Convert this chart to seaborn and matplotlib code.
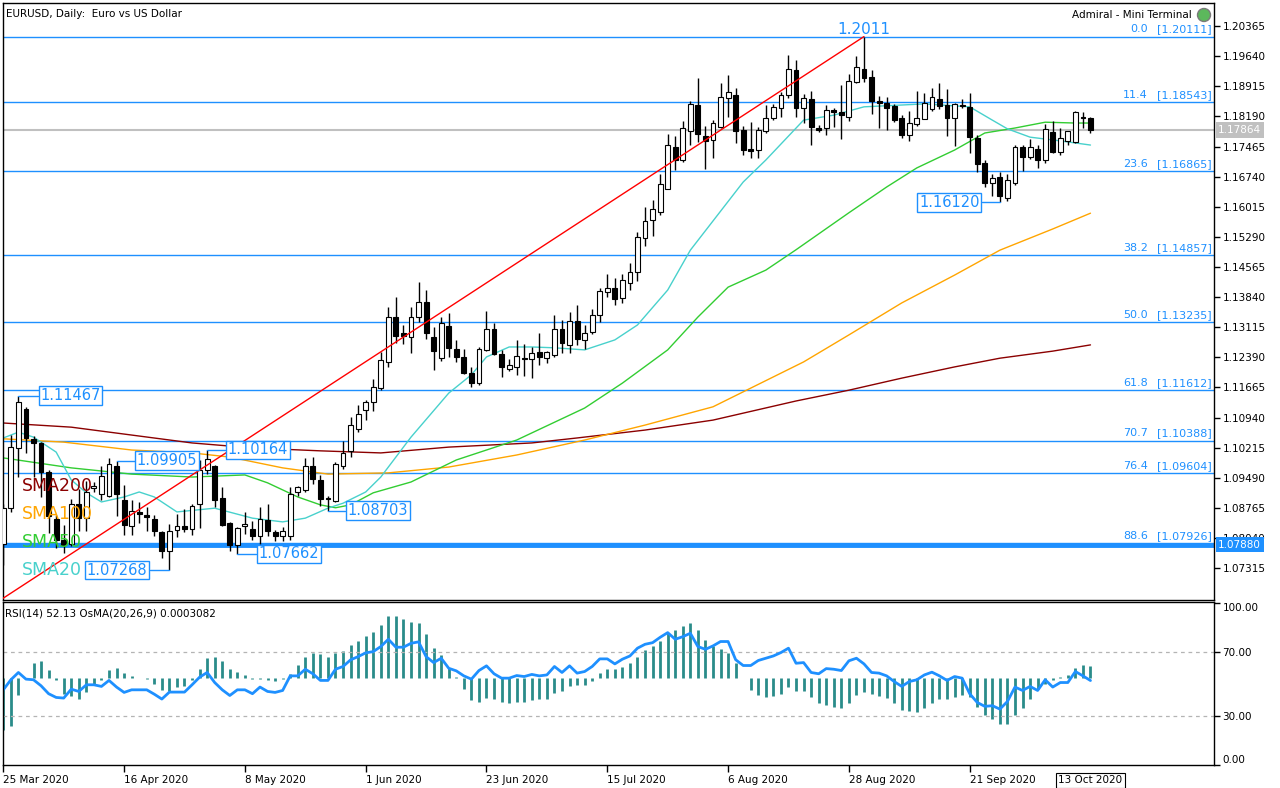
import numpy as np
import matplotlib
matplotlib.use("Agg")
import matplotlib.pyplot as plt
import matplotlib.transforms as mtransforms
from matplotlib.patches import Circle
import seaborn as sns

# EURUSD daily candles, 25 Mar 2020 .. 13 Oct 2020
opens = [1.0790, 1.0876, 1.1020, 1.1114, 1.1043, 1.1032, 1.0962, 1.0850, 1.0800, 1.0790,
         1.0885, 1.0852, 1.0924, 1.0911, 1.0906, 1.0978, 1.0896, 1.0834, 1.0868, 1.0860,
         1.0850, 1.0819, 1.0774, 1.0823, 1.0834, 1.0826, 1.0887, 1.0968, 1.0977, 1.0900,
         1.0840, 1.0787, 1.0832, 1.0825, 1.0808, 1.0848, 1.0819, 1.0808, 1.0810, 1.0916,
         1.0920, 1.0977, 1.0945, 1.0900, 1.0894, 1.0978, 1.1013, 1.1066, 1.1112, 1.1132,
         1.1166, 1.1228, 1.1336, 1.1298, 1.1288, 1.1336, 1.1372, 1.1288, 1.1237, 1.1314,
         1.1258, 1.1240, 1.1202, 1.1178, 1.1257, 1.1307, 1.1247, 1.1212, 1.1216, 1.1238,
         1.1236, 1.1251, 1.1237, 1.1245, 1.1307, 1.1268, 1.1326, 1.1281, 1.1300, 1.1340,
         1.1397, 1.1407, 1.1382, 1.1418, 1.1445, 1.1527, 1.1570, 1.1589, 1.1645, 1.1745,
         1.1714, 1.1785, 1.1847, 1.1772, 1.1762, 1.1794, 1.1864, 1.1871, 1.1786, 1.1740,
         1.1738, 1.1784, 1.1815, 1.1840, 1.1870, 1.1931, 1.1840, 1.1861, 1.1792, 1.1791,
         1.1834, 1.1830, 1.1818, 1.1901, 1.1932, 1.1914, 1.1856, 1.1852, 1.1844, 1.1815,
         1.1774, 1.1800, 1.1813, 1.1837, 1.1861, 1.1846, 1.1815, 1.1847, 1.1842, 1.1767,
         1.1706, 1.1659, 1.1673, 1.1623, 1.1659, 1.1745, 1.1721, 1.1741, 1.1714, 1.1781,
         1.1733, 1.1760, 1.1758, 1.1818, 1.1815]
highs = [1.0886, 1.1052, 1.1147, 1.1120, 1.1050, 1.1035, 1.0969, 1.0860, 1.0835, 1.0897,
         1.0921, 1.0941, 1.0940, 1.0978, 1.0997, 1.09905, 1.0932, 1.0896, 1.0890, 1.0880,
         1.0860, 1.0820, 1.0838, 1.0862, 1.0874, 1.0885, 1.0992, 1.10164, 1.0980, 1.0927,
         1.0842, 1.0830, 1.0868, 1.0845, 1.0880, 1.0885, 1.0823, 1.0830, 1.0926, 1.0930,
         1.0996, 1.1000, 1.0955, 1.0906, 1.0988, 1.1037, 1.1095, 1.1124, 1.1137, 1.1188,
         1.1252, 1.1360, 1.1384, 1.1318, 1.1360, 1.1420, 1.1400, 1.1312, 1.1336, 1.1345,
         1.1280, 1.1260, 1.1216, 1.1265, 1.1350, 1.1322, 1.1257, 1.1235, 1.1280, 1.1271,
         1.1265, 1.1297, 1.1255, 1.1340, 1.1330, 1.1348, 1.1365, 1.1318, 1.1355, 1.1405,
         1.1440, 1.1430, 1.1440, 1.1465, 1.1541, 1.1601, 1.1618, 1.1681, 1.1777, 1.1772,
         1.1808, 1.1855, 1.1911, 1.1796, 1.1810, 1.1900, 1.1918, 1.1887, 1.1796, 1.1806,
         1.1794, 1.1846, 1.1850, 1.1877, 1.1967, 1.1955, 1.1872, 1.1880, 1.1798, 1.1846,
         1.1840, 1.1895, 1.1920, 1.1965, 1.2011, 1.1930, 1.1869, 1.1865, 1.1850, 1.1823,
         1.1832, 1.1880, 1.1876, 1.1888, 1.1900, 1.1884, 1.1852, 1.1862, 1.1875, 1.1775,
         1.1715, 1.1680, 1.1685, 1.1680, 1.1750, 1.1750, 1.1765, 1.1749, 1.1800, 1.1808,
         1.1790, 1.1784, 1.1832, 1.1830, 1.1818]
lows = [1.0740, 1.0866, 1.0950, 1.1008, 1.0950, 1.0904, 1.0816, 1.0780, 1.0768, 1.0785,
        1.0820, 1.0820, 1.0915, 1.0896, 1.0904, 1.0856, 1.0812, 1.0812, 1.0840, 1.0822,
        1.0810, 1.0756, 1.07268, 1.0806, 1.0818, 1.0812, 1.0829, 1.0959, 1.0880, 1.0834,
        1.0772, 1.07662, 1.0815, 1.0800, 1.0790, 1.0808, 1.0798, 1.0798, 1.0800, 1.0906,
        1.0916, 1.0935, 1.0881, 1.08703, 1.0890, 1.0970, 1.0999, 1.1060, 1.1089, 1.1111,
        1.1160, 1.1215, 1.1274, 1.1270, 1.1250, 1.1324, 1.1283, 1.1209, 1.1230, 1.1240,
        1.1228, 1.1200, 1.1168, 1.1172, 1.1255, 1.1245, 1.1192, 1.1205, 1.1196, 1.1194,
        1.1190, 1.1220, 1.1225, 1.1240, 1.1250, 1.1250, 1.1268, 1.1258, 1.1295, 1.1323,
        1.1384, 1.1366, 1.1370, 1.1400, 1.1423, 1.1507, 1.1531, 1.1581, 1.1644, 1.1690,
        1.1710, 1.1750, 1.1758, 1.1693, 1.1720, 1.1790, 1.1818, 1.1756, 1.1726, 1.1720,
        1.1718, 1.1780, 1.1810, 1.1818, 1.1863, 1.1818, 1.1802, 1.1750, 1.1782, 1.1775,
        1.1794, 1.1764, 1.1808, 1.1900, 1.1902, 1.1825, 1.1790, 1.1786, 1.1806, 1.1767,
        1.1760, 1.1795, 1.1812, 1.1833, 1.1837, 1.1772, 1.1748, 1.1840, 1.1730, 1.1685,
        1.1650, 1.1627, 1.1612, 1.1615, 1.1655, 1.1687, 1.1717, 1.1695, 1.1707, 1.1730,
        1.1727, 1.1750, 1.1755, 1.1792, 1.1780]
closes = [1.0876, 1.1023, 1.1131, 1.1045, 1.1032, 1.0962, 1.0857, 1.0800, 1.0788, 1.0885,
          1.0852, 1.0916, 1.0930, 1.0954, 1.0982, 1.0911, 1.0836, 1.0870, 1.0863, 1.0855,
          1.0822, 1.0774, 1.0822, 1.0834, 1.0826, 1.0881, 1.0968, 1.0994, 1.0896, 1.0835,
          1.0787, 1.0828, 1.0838, 1.0808, 1.0850, 1.0822, 1.0808, 1.0820, 1.0911, 1.0926,
          1.0978, 1.0947, 1.0897, 1.0897, 1.0982, 1.1010, 1.1076, 1.1102, 1.1131, 1.1168,
          1.1233, 1.1336, 1.1290, 1.1290, 1.1336, 1.1372, 1.1298, 1.1254, 1.1322, 1.1261,
          1.1240, 1.1202, 1.1178, 1.1260, 1.1307, 1.1247, 1.1216, 1.1220, 1.1243, 1.1236,
          1.1250, 1.1240, 1.1251, 1.1307, 1.1273, 1.1326, 1.1283, 1.1298, 1.1340, 1.1398,
          1.1407, 1.1380, 1.1424, 1.1445, 1.1529, 1.1567, 1.1596, 1.1656, 1.1750, 1.1715,
          1.1791, 1.1849, 1.1777, 1.1760, 1.1803, 1.1866, 1.1878, 1.1784, 1.1738, 1.1735,
          1.1786, 1.1815, 1.1842, 1.1870, 1.1933, 1.1840, 1.1864, 1.1794, 1.1787, 1.1834,
          1.1830, 1.1822, 1.1904, 1.1938, 1.1911, 1.1856, 1.1852, 1.1840, 1.1810, 1.1774,
          1.1803, 1.1815, 1.1852, 1.1866, 1.1845, 1.1815, 1.1849, 1.1845, 1.1770, 1.1705,
          1.1659, 1.1670, 1.1627, 1.1666, 1.1745, 1.1721, 1.1745, 1.1715, 1.1788, 1.1733,
          1.1766, 1.1784, 1.1830, 1.1814, 1.17864]

# moving averages, sampled along the drawn lines (bar index, price)
sma20_bars = [0, 2, 4, 7, 9, 11, 13, 16, 18, 20, 23, 28, 33, 37, 40, 43, 45, 48, 50, 54, 59, 62,
              64, 67, 70, 73, 77, 81, 84, 88, 91, 98, 101, 106, 110, 114, 122, 128, 131, 133, 136, 140, 144]
sma20_vals = [1.1045, 1.1059, 1.1047, 1.1011, 1.0944, 1.0913, 1.0891, 1.0903, 1.0915, 1.0903,
              1.0867, 1.0876, 1.0852, 1.0843, 1.0852, 1.0876, 1.0888, 1.0915, 1.0951, 1.1047,
              1.1153, 1.1197, 1.1240, 1.1264, 1.1264, 1.1262, 1.1257, 1.1281, 1.1317, 1.1401,
              1.1497, 1.1661, 1.1714, 1.1810, 1.1822, 1.1842, 1.1849, 1.1842, 1.1810, 1.1789,
              1.1769, 1.1760, 1.1750]
sma50_bars = [0, 9, 17, 25, 32, 35, 39, 42, 44, 46, 49, 54, 60, 68, 77, 82, 88, 92, 96, 101,
              105, 112, 117, 121, 126, 130, 134, 138, 142, 144]
sma50_vals = [1.0997, 1.0973, 1.0958, 1.0951, 1.0956, 1.0937, 1.0903, 1.0884, 1.0877, 1.0884,
              1.0913, 1.0939, 1.0992, 1.1040, 1.1117, 1.1177, 1.1257, 1.1336, 1.1408, 1.1449,
              1.1498, 1.1587, 1.1649, 1.1695, 1.1738, 1.1779, 1.1791, 1.1805, 1.1803, 1.1803]
sma100_bars = [0, 8, 17, 25, 30, 37, 43, 51, 59, 68, 77, 85, 94, 99, 106, 112, 119, 126, 132, 139, 144]
sma100_vals = [1.1043, 1.1035, 1.1016, 1.1009, 1.0999, 1.0973, 1.0958, 1.0961, 1.0975, 1.1004,
               1.1040, 1.1076, 1.1120, 1.1165, 1.1228, 1.1293, 1.1370, 1.1437, 1.1497, 1.1548, 1.1586]
sma200_bars = [0, 9, 17, 25, 33, 42, 50, 59, 70, 76, 85, 94, 105, 112, 119, 126, 132, 139, 144]
sma200_vals = [1.1081, 1.1071, 1.1052, 1.1033, 1.1021, 1.1014, 1.1009, 1.1023, 1.1033, 1.1045,
               1.1064, 1.1088, 1.1134, 1.1160, 1.1189, 1.1216, 1.1237, 1.1254, 1.1269]

rsi = [46.4, 52.6, 57.1, 53.0, 52.6, 48.9, 44.0, 41.7, 41.3, 46.8,
       45.4, 49.5, 49.5, 48.5, 52.2, 48.1, 44.8, 46.4, 46.4, 46.4,
       43.7, 40.7, 45.0, 45.0, 45.0, 49.5, 54.2, 57.1, 50.9, 46.4,
       42.9, 46.4, 46.4, 44.0, 48.1, 45.4, 44.8, 46.0, 55.0, 55.0,
       59.1, 56.3, 52.2, 52.2, 59.1, 60.8, 64.9, 66.9, 69.2, 70.0,
       73.1, 77.6, 72.7, 72.7, 75.1, 76.0, 66.9, 63.2, 65.9, 59.7,
       58.1, 55.0, 53.0, 58.3, 61.2, 56.3, 53.6, 53.6, 55.2, 54.6,
       55.9, 55.0, 55.6, 60.8, 57.1, 61.2, 56.7, 57.7, 60.8, 65.5,
       65.5, 62.4, 65.3, 67.3, 72.1, 74.5, 75.5, 78.8, 81.7, 77.6,
       79.2, 81.3, 73.1, 71.4, 73.5, 76.2, 76.2, 65.0, 61.4, 61.4,
       64.5, 65.9, 67.3, 69.4, 72.1, 62.8, 63.2, 57.1, 56.3, 59.5,
       59.1, 58.3, 64.3, 65.9, 62.4, 57.1, 56.7, 55.0, 51.5, 48.5,
       51.5, 52.6, 55.6, 57.3, 55.0, 52.2, 54.6, 53.6, 44.0, 38.6,
       36.2, 36.6, 34.5, 39.2, 48.1, 46.0, 48.5, 46.0, 52.6, 48.1,
       50.9, 50.9, 57.7, 55.0, 52.13]
# OsMA histogram in units of 1e-4
osma_e4 = [-13.0, -12.0, -4.2, -0.2, 3.7, 4.2, 2.0, -0.5, -4.0, -4.5,
           -5.2, -3.4, -1.5, -0.5, 2.0, 2.4, 1.3, 0.5, 0.1, -0.3,
           -1.5, -3.0, -3.2, -2.3, -2.0, -0.5, 2.2, 4.9, 5.3, 4.2,
           2.2, 1.6, 0.7, -0.3, -0.3, -0.4, -0.8, -0.3, 1.0, 3.2,
           5.3, 6.3, 5.9, 5.2, 6.2, 6.8, 8.3, 9.3, 10.5, 11.4,
           13.3, 15.5, 15.5, 14.7, 14.0, 13.7, 11.0, 7.4, 5.8, 2.4,
           0.2, -2.8, -5.5, -5.9, -5.1, -5.2, -5.9, -6.3, -5.9, -5.9,
           -5.5, -5.3, -5.2, -3.8, -3.2, -2.0, -1.8, -1.8, -0.7, 1.2,
           2.2, 2.2, 2.8, 3.7, 5.2, 7.0, 8.0, 9.3, 11.2, 12.0,
           13.0, 13.7, 12.0, 9.5, 8.0, 7.2, 6.3, 3.7, 0.0, -3.0,
           -4.2, -4.7, -4.5, -4.0, -2.3, -3.2, -3.2, -4.7, -6.2, -6.8,
           -7.2, -7.6, -6.2, -4.2, -3.4, -4.0, -4.5, -5.1, -6.3, -8.0,
           -8.3, -8.4, -7.6, -6.3, -5.3, -5.3, -4.7, -4.2, -4.8, -7.2,
           -9.3, -10.3, -11.5, -11.5, -9.3, -7.6, -5.3, -2.8, -1.5, -0.5,
           0.2, 0.8, 2.4, 3.2, 3.08]

fib_levels = ["0.0", "11.4", "23.6", "38.2", "50.0", "61.8", "70.7", "76.4", "88.6"]
fib_prices = [1.20111, 1.18543, 1.16865, 1.14857, 1.13235, 1.11612, 1.10388, 1.09604, 1.07926]
fib_start, fib_end = (-2, 1.06358), (114, 1.20111)   # red trend line of the fibo tool

price_ticks = [1.20365, 1.19640, 1.18915, 1.18190, 1.17465, 1.16740, 1.16015, 1.15290, 1.14565,
               1.13840, 1.13115, 1.12390, 1.11665, 1.10940, 1.10215, 1.09490, 1.08765, 1.08040, 1.07315]
date_bars = [0, 16, 32, 48, 64, 80, 96, 112, 128]
date_labels = ["25 Mar 2020", "16 Apr 2020", "8 May 2020", "1 Jun 2020", "23 Jun 2020",
               "15 Jul 2020", "6 Aug 2020", "28 Aug 2020", "21 Sep 2020"]
last_date = "13 Oct 2020"
current_price = 1.17864
hline_price = 1.07880

# price labels: (value, bar of candle, label edge in bars, side)
price_marks = [(1.11467, 2, 4.6, "left"), (1.09905, 15, 17.4, "left"), (1.10164, 27, 29.4, "left"),
               (1.07662, 31, 33.5, "left"), (1.07268, 22, 19.4, "right"), (1.08703, 43, 45.3, "left"),
               (1.16120, 132, 129.6, "right")]

BLUE = "#1E90FF"
sns.set_style("white", {"axes.edgecolor": "black", "text.color": "black",
                        "xtick.color": "black", "ytick.color": "black"})
plt.rcParams["font.family"] = ["DejaVu Sans"]

W, H = 1280, 788
fig = plt.figure(figsize=(W / 100, H / 100), dpi=100)
ax = fig.add_axes([3 / W, 1 - 600 / H, 1211 / W, 597 / H])
axr = fig.add_axes([3 / W, 1 - 765 / H, 1211 / W, 163 / H])
XLIM = (-0.04, 160.36)

# ---------- price pane ----------
x = np.arange(len(closes))
o, h, l, c = (np.array(v) for v in (opens, highs, lows, closes))
for p in fib_prices:
    ax.axhline(p, color=BLUE, lw=1, zorder=1)
ax.axhline(current_price, color="#c0c0c0", lw=1.5, zorder=1)
ax.axhline(hline_price, color=BLUE, lw=3.5, zorder=1.5)

sns.lineplot(x=sma200_bars, y=sma200_vals, ax=ax, color="#8B0000", lw=1, zorder=2)
sns.lineplot(x=sma100_bars, y=sma100_vals, ax=ax, color="#FFA500", lw=1, zorder=2)
sns.lineplot(x=sma50_bars, y=sma50_vals, ax=ax, color="#32CD32", lw=1, zorder=2)
sns.lineplot(x=sma20_bars, y=sma20_vals, ax=ax, color="#48D1CC", lw=1, zorder=2)

up = c >= o
ax.vlines(x, l, h, color="black", lw=1, zorder=3)
ax.bar(x, np.maximum(np.abs(c - o), 0.00008), bottom=np.minimum(o, c), width=0.64,
       color=np.where(up, "white", "black"), edgecolor="black", linewidth=0.8, zorder=4)

ax.plot([fib_start[0], fib_end[0]], [fib_start[1], fib_end[1]], color="#FF0000", lw=1, zorder=5)

blend = mtransforms.blended_transform_factory(ax.transAxes, ax.transData)
for lvl, p in zip(fib_levels, fib_prices):
    ax.annotate(lvl, xy=(0.9455, p), xycoords=blend, xytext=(0, 1.5), textcoords="offset points",
                ha="right", va="bottom", color=BLUE, fontsize=8, zorder=6)
    ax.annotate(f"[{p:.5f}]", xy=(0.9983, p), xycoords=blend, xytext=(0, 1.5), textcoords="offset points",
                ha="right", va="bottom", color=BLUE, fontsize=8, zorder=6)

for val, bar, edge, side in price_marks:
    ax.plot([bar, edge], [val, val], color=BLUE, lw=1, zorder=5)
    tx = edge + 0.3 if side == "left" else edge - 0.3
    ax.text(tx, val, f"{val:.5f}", color=BLUE, fontsize=10.5, ha=side, va="center", zorder=7,
            bbox=dict(boxstyle="square,pad=0.12", fc="white", ec=BLUE, lw=1))
ax.text(114, 1.2011, "1.2011", color=BLUE, fontsize=11, ha="center", va="bottom", zorder=7)

ax.annotate(f"{current_price:.5f}", xy=(1.0, current_price), xycoords=blend, xytext=(3, 0),
            textcoords="offset points", ha="left", va="center", fontsize=7.5, color="white",
            annotation_clip=False, zorder=8, bbox=dict(boxstyle="square,pad=0.25", fc="#c0c0c0", ec="none"))
ax.annotate(f"{hline_price:.5f}", xy=(1.0, hline_price), xycoords=blend, xytext=(3, 0),
            textcoords="offset points", ha="left", va="center", fontsize=7.5, color="white",
            annotation_clip=False, zorder=8, bbox=dict(boxstyle="square,pad=0.25", fc=BLUE, ec="none"))

ax.set_xlim(*XLIM)
ax.set_ylim(1.06550, 1.20919)
ax.yaxis.tick_right()
ax.set_yticks(price_ticks)
ax.set_yticklabels([f"{v:.5f}" for v in price_ticks])
ax.tick_params(axis="y", right=True, left=False, direction="out", length=4, width=1, labelsize=7.5, pad=2)
ax.set_xticks([])
ax.set_xlabel("")
ax.set_ylabel("")
for s in ax.spines.values():
    s.set_color("black")
    s.set_linewidth(1)

# ---------- RSI / OsMA pane ----------
axo = axr.twinx()
axo.vlines(x, 0, np.array(osma_e4) * 1e-4, color="#2a8c8a", lw=2)
axo.set_ylim(-0.002175, 0.0019)
axo.axis("off")
axr.set_zorder(axo.get_zorder() + 1)
axr.patch.set_visible(False)

axr.axhline(70, color="#b4b4b4", lw=0.9, ls=(0, (3, 3)))
axr.axhline(30, color="#b4b4b4", lw=0.9, ls=(0, (3, 3)))
sns.lineplot(x=x, y=rsi, ax=axr, color=BLUE, lw=2)
axr.set_xlim(*XLIM)
axo.set_xlim(*XLIM)
axr.set_ylim(0, 100.6)
axr.yaxis.tick_right()
axr.set_yticks([0, 30, 70, 100])
axr.set_yticklabels(["0.00", "30.00", "70.00", "100.00"])
axr.tick_params(axis="y", right=True, left=False, direction="out", length=4, width=1, labelsize=7.5, pad=2)
labs = axr.get_yticklabels()
labs[0].set_va("bottom")
labs[-1].set_va("top")
axr.set_xticks(date_bars)
axr.set_xticklabels(date_labels, ha="left")
axr.tick_params(axis="x", bottom=True, direction="out", length=5, width=1, labelsize=7.5, pad=2)
axr.set_xlabel("")
axr.set_ylabel("")
for s in axr.spines.values():
    s.set_color("black")
    s.set_linewidth(1)
axr.annotate(last_date, xy=(144, 0), xycoords="data", xytext=(0, -11), textcoords="offset points",
             ha="center", va="center", fontsize=7.5, annotation_clip=False,
             bbox=dict(boxstyle="square,pad=0.25", fc="white", ec="black", lw=0.8))

# ---------- texts ----------
fig.text(6 / W, 1 - 14 / H, "EURUSD, Daily:  Euro vs US Dollar", fontsize=7.5, va="center")
fig.text(1192 / W, 1 - 15 / H, "Admiral - Mini Terminal", fontsize=7.5, va="center", ha="right")
fig.add_artist(Circle((12.04, 7.73), 0.065, transform=fig.dpi_scale_trans, fc="#5cb85c", ec="#7a7a7a", lw=1))
fig.text(5 / W, 1 - 613 / H, "RSI(14) 52.13 OsMA(20,26,9) 0.0003082", fontsize=7.5, va="center")
for txt, col, yy in [("SMA200", "#8B0000", 486), ("SMA100", "#FFA500", 514),
                     ("SMA50", "#32CD32", 542), ("SMA20", "#48D1CC", 570)]:
    fig.text(22 / W, 1 - yy / H, txt, color=col, fontsize=12.5, va="center", ha="left")

fig.savefig("out.png", dpi=100)
